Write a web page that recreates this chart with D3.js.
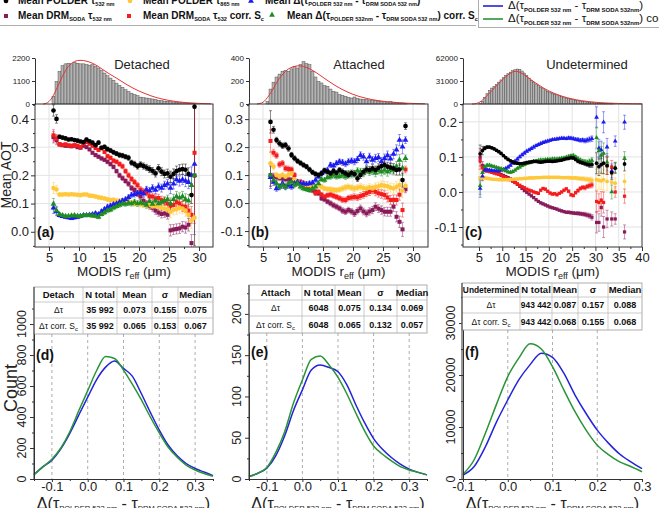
<!DOCTYPE html>
<html><head><meta charset="utf-8">
<script src="https://cdn.jsdelivr.net/npm/d3@7"></script>
<style>body{margin:0;background:#fff}svg{display:block}</style>
</head><body><script>
// ---------------- DATA ----------------
const rEffA = [5.75,6.25,6.75,7.25,7.75,8.25,8.75,9.25,9.75,10.25,10.75,11.25,11.75,12.25,12.75,13.25,13.75,14.25,14.75,15.25,15.75,16.25,16.75,17.25,17.75,18.25,18.75,19.25,19.75,20.25,20.75,21.25,21.75,22.25,22.75,23.25,23.75,24.25,24.75,25.25,25.75,26.25,26.75,27.25,27.75,28.25,28.75,29.25];
const polder532A = [0.430,0.400,0.337,0.334,0.331,0.327,0.328,0.325,0.323,0.320,0.318,0.327,0.321,0.316,0.307,0.316,0.298,0.301,0.293,0.288,0.282,0.277,0.272,0.270,0.266,0.262,0.245,0.240,0.232,0.238,0.233,0.228,0.222,0.216,0.207,0.225,0.213,0.205,0.207,0.195,0.205,0.215,0.220,0.222,0.220,0.205,0.130,0.443];
const polder865A = [0.155,0.150,0.132,0.132,0.133,0.132,0.133,0.132,0.131,0.130,0.132,0.132,0.128,0.127,0.125,0.122,0.120,0.118,0.115,0.112,0.113,0.110,0.110,0.108,0.107,0.105,0.103,0.100,0.100,0.098,0.097,0.093,0.095,0.090,0.092,0.088,0.085,0.082,0.080,0.070,0.078,0.080,0.085,0.082,0.075,0.060,0.040,0.050];
const deltaA = [0.085,0.072,0.058,0.055,0.052,0.050,0.048,0.050,0.052,0.055,0.058,0.058,0.060,0.062,0.065,0.062,0.072,0.080,0.088,0.092,0.097,0.100,0.105,0.110,0.115,0.122,0.130,0.133,0.137,0.140,0.135,0.150,0.145,0.155,0.148,0.160,0.155,0.165,0.170,0.155,0.170,0.185,0.180,0.185,0.180,0.175,0.200,0.240];
const drmA = [0.335,0.325,0.310,0.307,0.305,0.305,0.303,0.305,0.300,0.298,0.305,0.300,0.292,0.280,0.272,0.266,0.260,0.255,0.248,0.240,0.230,0.215,0.200,0.190,0.180,0.170,0.155,0.148,0.135,0.125,0.110,0.100,0.092,0.085,0.075,0.068,0.063,0.065,0.060,0.005,0.008,0.010,0.012,0.018,0.015,0.025,-0.040,0.200];
const drmCorrA = [0.342,0.330,0.310,0.308,0.310,0.306,0.305,0.307,0.305,0.300,0.312,0.318,0.312,0.305,0.297,0.290,0.296,0.283,0.268,0.262,0.252,0.248,0.240,0.232,0.215,0.200,0.187,0.176,0.165,0.150,0.143,0.138,0.125,0.125,0.118,0.120,0.112,0.108,0.100,0.092,0.095,0.105,0.100,0.090,0.088,0.075,0.060,0.280];
const deltaCorrA = [0.098,0.075,0.062,0.058,0.055,0.055,0.057,0.058,0.056,0.055,0.058,0.058,0.058,0.057,0.056,0.052,0.062,0.068,0.075,0.078,0.085,0.090,0.095,0.100,0.098,0.102,0.100,0.105,0.100,0.103,0.100,0.095,0.108,0.098,0.110,0.100,0.105,0.110,0.115,0.100,0.115,0.125,0.120,0.125,0.115,0.110,0.165,0.200];
const errA = [0.020,0.015,0.006,0.005,0.005,0.005,0.005,0.005,0.005,0.005,0.005,0.005,0.005,0.005,0.006,0.006,0.006,0.006,0.007,0.007,0.007,0.007,0.008,0.008,0.008,0.009,0.009,0.010,0.010,0.010,0.011,0.011,0.012,0.012,0.013,0.013,0.014,0.014,0.015,0.020,0.018,0.018,0.018,0.018,0.020,0.022,0.030,0.250];

const rEffB = [6.25,6.75,7.25,7.75,8.25,8.75,9.25,9.75,10.25,10.75,11.25,11.75,12.25,12.75,13.25,13.75,14.25,14.75,15.25,15.75,16.25,16.75,17.25,17.75,18.25,18.75,19.25,19.75,20.25,20.75,21.25,21.75,22.25,22.75,23.25,23.75,24.25,24.75,25.25,25.75,26.25,26.75,27.25,27.75,28.25,28.75];
const polder532B = [0.290,0.262,0.225,0.213,0.205,0.207,0.195,0.172,0.160,0.150,0.143,0.136,0.130,0.120,0.110,0.104,0.100,0.106,0.117,0.112,0.106,0.114,0.108,0.118,0.112,0.106,0.100,0.108,0.104,0.088,0.100,0.112,0.120,0.118,0.124,0.118,0.126,0.132,0.136,0.130,0.127,0.124,0.118,0.120,0.082,0.275];
const polder865B = [0.142,0.130,0.100,0.094,0.100,0.094,0.100,0.106,0.085,0.076,0.070,0.070,0.064,0.064,0.058,0.060,0.062,0.058,0.052,0.050,0.049,0.047,0.046,0.048,0.052,0.056,0.058,0.055,0.052,0.055,0.058,0.054,0.052,0.056,0.052,0.058,0.060,0.064,0.062,0.060,0.055,0.052,0.058,0.064,0.045,0.062];
const deltaB = [0.092,0.075,0.052,0.058,0.070,0.058,0.064,0.058,0.070,0.076,0.070,0.070,0.068,0.070,0.072,0.082,0.094,0.106,0.112,0.118,0.136,0.133,0.142,0.148,0.145,0.140,0.148,0.151,0.148,0.156,0.171,0.165,0.148,0.165,0.154,0.160,0.163,0.148,0.160,0.170,0.158,0.175,0.190,0.225,0.201,0.225];
const drmB = [0.100,0.095,0.092,0.090,0.088,0.085,0.085,0.082,0.078,0.072,0.070,0.065,0.058,0.050,0.045,0.040,0.035,0.017,0.013,0.005,-0.001,-0.008,-0.013,-0.019,-0.027,-0.031,-0.025,-0.030,-0.037,-0.028,-0.019,-0.030,-0.037,-0.030,-0.025,-0.013,-0.020,-0.025,-0.031,-0.031,-0.031,-0.013,-0.049,-0.067,-0.094,0.049];
const drmCorrB = [0.222,0.180,0.170,0.138,0.142,0.124,0.122,0.120,0.100,0.075,0.076,0.070,0.060,0.062,0.050,0.035,0.040,0.030,0.023,0.028,0.030,0.026,0.022,0.017,0.012,0.011,0.018,0.020,0.022,0.020,0.025,0.029,0.035,0.040,0.046,0.040,0.035,0.032,0.029,0.020,0.011,0.012,0.011,0.030,-0.025,0.120];
const deltaCorrB = [0.100,0.082,0.070,0.058,0.064,0.058,0.070,0.076,0.064,0.070,0.058,0.052,0.049,0.046,0.052,0.058,0.070,0.085,0.082,0.092,0.094,0.100,0.094,0.096,0.100,0.094,0.106,0.100,0.106,0.115,0.112,0.106,0.120,0.112,0.115,0.108,0.118,0.112,0.118,0.112,0.120,0.118,0.130,0.154,0.125,0.160];
const errB = [0.040,0.012,0.010,0.010,0.010,0.010,0.010,0.009,0.009,0.008,0.008,0.008,0.008,0.008,0.008,0.008,0.008,0.008,0.008,0.008,0.009,0.009,0.009,0.009,0.010,0.010,0.010,0.010,0.011,0.011,0.012,0.012,0.012,0.013,0.013,0.014,0.014,0.015,0.015,0.016,0.016,0.017,0.018,0.020,0.025,0.012];

const rEffC = [5.25,5.75,6.25,6.75,7.25,7.75,8.25,8.75,9.25,9.75,10.25,10.75,11.25,11.75,12.25,12.75,13.25,13.75,14.25,14.75,15.25,15.75,16.25,16.75,17.25,17.75,18.25,18.75,19.25,19.75,20.25,20.75,21.25,21.75,22.25,22.75,23.25,23.75,24.25,24.75,25.25,25.75,26.25,26.75,27.25,27.75,28.25,28.75,29.25,30.25,30.75,31.25,31.75,32.5,33.5,34.25,36.25];
const polder532C = [0.109,0.118,0.125,0.128,0.128,0.126,0.123,0.119,0.115,0.110,0.104,0.098,0.093,0.089,0.086,0.083,0.082,0.081,0.081,0.082,0.084,0.085,0.086,0.087,0.087,0.086,0.085,0.086,0.087,0.088,0.088,0.087,0.088,0.089,0.090,0.091,0.093,0.095,0.096,0.098,0.097,0.093,0.088,0.085,0.083,0.081,0.079,0.077,0.078,0.082,0.072,0.078,0.082,0.075,0.055,0.068,0.080];
const polder865C = [0.040,0.042,0.040,0.039,0.038,0.037,0.036,0.036,0.035,0.035,0.035,0.035,0.035,0.036,0.036,0.037,0.037,0.038,0.038,0.039,0.039,0.040,0.040,0.040,0.041,0.041,0.041,0.042,0.042,0.042,0.042,0.042,0.042,0.042,0.042,0.041,0.041,0.041,0.041,0.040,0.040,0.040,0.039,0.038,0.038,0.037,0.036,0.035,0.034,0.035,0.033,0.032,0.035,0.030,0.028,0.025,0.030];
const deltaC = [0.010,0.045,0.062,0.063,0.062,0.061,0.060,0.060,0.060,0.062,0.064,0.067,0.071,0.076,0.082,0.088,0.094,0.100,0.106,0.111,0.116,0.120,0.124,0.128,0.132,0.135,0.138,0.141,0.143,0.145,0.147,0.149,0.150,0.151,0.152,0.153,0.153,0.152,0.154,0.153,0.152,0.150,0.149,0.147,0.148,0.146,0.148,0.150,0.152,0.213,0.125,0.120,0.199,0.128,0.060,0.145,0.199];
const drmC = [0.099,0.075,0.064,0.061,0.060,0.058,0.057,0.055,0.053,0.050,0.047,0.044,0.041,0.037,0.032,0.027,0.022,0.016,0.010,0.004,-0.001,-0.006,-0.011,-0.016,-0.022,-0.027,-0.031,-0.034,-0.037,-0.040,-0.043,-0.045,-0.047,-0.049,-0.052,-0.054,-0.056,-0.058,-0.058,-0.059,-0.060,-0.061,-0.061,-0.062,-0.063,-0.064,-0.066,-0.068,-0.072,-0.087,-0.087,-0.044,-0.100,-0.077,-0.077,-0.077,-0.114];
const drmCorrC = [0.090,0.070,0.062,0.060,0.058,0.056,0.054,0.052,0.050,0.047,0.044,0.041,0.038,0.035,0.031,0.027,0.023,0.019,0.015,0.012,0.008,0.005,0.003,0.000,-0.002,-0.004,0.005,0.010,0.008,0.002,-0.003,-0.006,-0.005,-0.008,-0.004,0.000,0.005,0.009,0.002,-0.008,-0.010,-0.002,0.004,0.010,0.013,0.012,0.016,0.018,0.020,-0.027,-0.030,-0.024,-0.030,0.075,0.070,0.000,-0.012];
const deltaCorrC = [0.018,0.055,0.072,0.076,0.076,0.074,0.072,0.070,0.068,0.066,0.063,0.060,0.057,0.056,0.058,0.062,0.067,0.071,0.075,0.078,0.081,0.083,0.085,0.087,0.088,0.090,0.091,0.091,0.092,0.093,0.093,0.094,0.094,0.094,0.095,0.096,0.097,0.099,0.101,0.103,0.104,0.100,0.095,0.091,0.088,0.086,0.085,0.087,0.090,0.155,0.118,0.105,0.110,0.085,0.000,0.070,0.095];
const errC = [0.025,0.012,0.005,0.004,0.003,0.003,0.003,0.003,0.003,0.003,0.003,0.003,0.003,0.003,0.003,0.003,0.003,0.003,0.003,0.003,0.003,0.003,0.003,0.003,0.003,0.003,0.003,0.003,0.003,0.003,0.003,0.003,0.003,0.003,0.003,0.003,0.003,0.003,0.004,0.004,0.004,0.004,0.005,0.005,0.005,0.006,0.006,0.007,0.008,0.030,0.025,0.025,0.030,0.025,0.020,0.015,0.020];

// histograms of r_eff (bin start, bin width, counts) and fitted curves
const histStartA = 5.5, histWidthA = 0.5;
const histCountsA = [370,1080,1560,1830,1920,1950,1920,1990,1950,1920,1920,1880,1860,1880,1800,1720,1600,1480,1350,1240,1130,1000,890,800,680,600,520,445,400,330,300,285,260,240,220,175,160,140,130,110,100,80,70,60,55,45,40,30];
const fitRA = [4,4.5,5,5.5,6,6.5,7,7.5,8,8.5,9,9.5,10,10.5,11,12,13,14,15,16,17,18,19,20,21,22,23,24,25,26,27,28,29,30,31,32];
const fitA = [0,30,120,300,560,870,1180,1470,1710,1880,1990,2060,2085,2085,2065,1980,1830,1640,1450,1280,1100,920,760,620,500,390,300,230,170,125,90,65,45,30,18,10];
const histStartB = 5.5, histWidthB = 0.5;
const histCountsB = [23,130,190,235,260,285,293,285,305,328,313,342,368,351,342,284,235,197,183,160,154,130,110,104,81,75,67,58,52,61,49,43,40,38,35,29,32,26,23,20,17,20,15,12,9,9,6];
const fitRB = [4,4.5,5,5.5,6,6.5,7,7.5,8,8.5,9,9.5,10,10.5,11,11.5,12,13,14,15,16,17,18,19,20,21,22,23,24,25,26,27,28,29,30,31,32];
const fitB = [0,5,15,40,75,115,160,205,240,270,295,312,323,330,332,330,322,300,268,232,196,162,132,106,84,66,52,40,31,24,18,14,10,7,5,3,2];
const histStartC = 5.0, histWidthC = 0.5;
const histCountsC = [500,3600,9000,14000,18500,21500,24000,26500,29500,32500,35500,38500,41000,43000,44800,46200,47100,46700,44500,41800,38500,35000,32000,29500,27000,25000,22800,21000,19000,17200,15800,14500,13300,12200,11000,10000,9000,8100,7300,6500,5800,5100,4500,4000,3500,3100,2700,2300,2000,1700,1400,1150,950,800,650,550,450,350];
const fitRC = [3.5,4,4.5,5,5.5,6,7,8,9,10,11,12,12.5,13,13.5,14,15,16,17,18,19,20,21,22,23,24,25,26,27,28,29,30,31,32,33,34,35,36,37,38,39,40];
const fitC = [0,200,800,2000,4000,6800,13000,19500,26000,32500,38000,42500,43800,44000,43500,42000,38000,33500,29000,25000,21000,17700,14800,12300,10200,8400,6900,5600,4600,3700,3000,2400,1900,1500,1200,950,750,580,450,350,270,200];

// distributions of the difference (bottom row)
const dTauD = [-0.15,-0.125,-0.1,-0.075,-0.05,-0.025,0,0.025,0.05,0.075,0.1,0.125,0.15,0.175,0.2,0.225,0.25,0.275,0.3,0.325,0.35];
const countBlueD = [28,80,122,195,295,412,528,642,722,762,714,662,550,430,316,218,150,100,68,45,22];
const countGreenD = [28,78,127,200,305,440,570,700,790,778,703,610,510,400,297,205,140,90,58,35,18];
const dTauE = [-0.15,-0.125,-0.1,-0.075,-0.05,-0.025,0,0.025,0.05,0.075,0.1,0.125,0.15,0.175,0.2,0.225,0.25,0.275,0.3,0.325,0.35];
const countBlueE = [3,7,13,28,52,83,108,132,138,135,130,114,90,68,49,36,26,18,12,8,5];
const countGreenE = [3,7,14,32,57,92,120,145,149,138,123,103,80,58,40,30,22,15,11,8,5];
const dTauF = [-0.1,-0.075,-0.05,-0.025,0,0.025,0.05,0.075,0.1,0.125,0.15,0.175,0.2,0.225,0.25,0.275,0.3];
const countBlueF = [770,2400,6200,11000,15200,19100,22000,24200,23400,20400,16200,12600,9400,6900,4800,3300,2000];
const countGreenF = [900,3700,8800,14400,19700,23300,26000,25000,21600,17200,13000,9400,6500,4700,3300,2400,1400];

// statistics tables
const tableHeadD = ["Detach","N total","Mean","σ","Median"];
const tableHeadE = ["Attach","N total","Mean","σ","Median"];
const tableHeadF = ["Undetermined","N total","Mean","σ","Median"];
const nTotalD = ["35 992","35 992"], meanD = ["0.073","0.065"], sigmaD = ["0.155","0.153"], medianD = ["0.075","0.067"];
const nTotalE = ["6048","6048"], meanE = ["0.075","0.065"], sigmaE = ["0.134","0.132"], medianE = ["0.069","0.057"];
const nTotalF = ["943 442","943 442"], meanF = ["0.087","0.068"], sigmaF = ["0.157","0.155"], medianF = ["0.088","0.068"];

// ---------------- DRAWING ----------------
const FONT = '"Liberation Sans", Arial, Helvetica, sans-serif';
const svg = d3.select("body").append("svg").attr("width",659).attr("height",508).attr("font-family",FONT);

const STY = {
  p532:{color:"#000000",shape:d3.symbolCircle,size:17},
  p865:{color:"#ffc83a",shape:d3.symbolCircle,size:17},
  delta:{color:"#1c1cf0",shape:d3.symbolTriangle,size:15},
  drm:{color:"#8a1b5a",shape:d3.symbolSquare,size:16},
  drmc:{color:"#f51c1c",shape:d3.symbolSquare,size:16},
  deltac:{color:"#1e8c22",shape:d3.symbolTriangle,size:15}
};
const markOrder = ["drm","drmc","p865","delta","deltac","p532"];
const errOrder = ["p865","delta","deltac","drm","p532","drmc"];

function rich(g, x, y, parts, o) {
  const t = g.append("text").attr("x",x).attr("y",y).attr("font-size",o.size)
    .attr("font-weight",o.weight||"normal").attr("text-anchor",o.anchor||"start").attr("fill",o.fill||"#000");
  if (o.rotate) t.attr("transform",`rotate(${o.rotate},${x},${y})`);
  let sub = false;
  parts.forEach(p => {
    if (typeof p === "string") {
      const ts = t.append("tspan").text(p);
      if (sub) { ts.attr("dy", -o.subDy); sub = false; }
    } else {
      const ts = t.append("tspan").text(p.s).attr("font-size", o.subSize);
      if (o.subWeight) ts.attr("font-weight", o.subWeight);
      if (!sub) { ts.attr("dy", o.subDy); sub = true; }
    }
  });
  return t;
}

function styleAxis(sel, fs, keepDomain) {
  sel.attr("font-family",FONT).attr("font-size",fs);
  if (!keepDomain) sel.select(".domain").remove(); else sel.select(".domain").attr("stroke","#333");
  sel.selectAll(".tick line").attr("stroke","#333");
  sel.selectAll("text").attr("fill","#222");
}

function mainPanel(L, D) {
  const x = d3.scaleLinear().domain(L.xd).range([L.x0, L.x1]);
  const y = d3.scaleLinear().domain(L.yd).range([L.y1, L.y0]);
  const g = svg.append("g");
  svg.append("clipPath").attr("id","clip"+L.id).append("rect")
    .attr("x",L.x0).attr("y",L.y0).attr("width",L.x1-L.x0).attr("height",L.y1-L.y0);
  g.append("g").selectAll("line").data(L.xt.filter(v => x(v) > L.x0+1 && x(v) < L.x1-1)).join("line")
    .attr("x1",d=>x(d)).attr("x2",d=>x(d)).attr("y1",L.y0).attr("y2",L.y1).attr("stroke","#e3e3e3");
  g.append("g").selectAll("line").data(L.yt).join("line")
    .attr("x1",L.x0).attr("x2",L.x1).attr("y1",d=>y(d)).attr("y2",d=>y(d)).attr("stroke","#e3e3e3");
  const hy = d3.scaleLinear().domain(L.hd).range([L.y0, L.hTop]);
  const H = D.hist;
  g.append("g").selectAll("rect").data(H.counts).join("rect")
    .attr("x",(d,i)=>x(H.start+i*H.width))
    .attr("width",(d,i)=>x(H.start+(i+1)*H.width)-x(H.start+i*H.width))
    .attr("y",d=>hy(d)).attr("height",d=>L.y0-hy(d))
    .attr("fill","#b3b3b3").attr("stroke","#3a3a3a").attr("stroke-width",0.4);
  g.append("path").datum(D.fitR.map((r,i)=>[r,D.fit[i]]))
    .attr("d",d3.line().x(d=>x(d[0])).y(d=>hy(d[1])).curve(d3.curveMonotoneX))
    .attr("fill","none").attr("stroke","#e8352f").attr("stroke-width",1);
  const ha = g.append("g").attr("transform",`translate(${L.x0},0)`)
    .call(d3.axisLeft(hy).tickValues(L.ht).tickSize(3).tickSizeOuter(0).tickPadding(2).tickFormat(d3.format("d")));
  styleAxis(ha, 8, true);
  g.append("rect").attr("x",L.x0).attr("y",L.y0).attr("width",L.x1-L.x0).attr("height",L.y1-L.y0)
    .attr("fill","none").attr("stroke","#333").attr("stroke-width",1);
  const dg = g.append("g").attr("clip-path",`url(#clip${L.id})`);
  errOrder.forEach(k => {
    const vals = D.s[k];
    dg.append("g").selectAll("path").data(vals.map((v,i)=>({x:D.x[i],v:v,e:D.err[i]}))).join("path")
      .attr("d",d=>{const xx=x(d.x),a=y(d.v-d.e),b=y(d.v+d.e);return `M${xx},${a}V${b}M${xx-1.5},${a}h3M${xx-1.5},${b}h3`;})
      .attr("stroke",STY[k].color).attr("stroke-width",0.6).attr("opacity",0.75).attr("fill","none");
  });
  markOrder.forEach(k => {
    const vals = D.s[k];
    dg.append("g").selectAll("path").data(vals.map((v,i)=>({x:D.x[i],v:v}))).join("path")
      .attr("transform",d=>`translate(${x(d.x)},${y(d.v)})`)
      .attr("d",d3.symbol().type(STY[k].shape).size(STY[k].size*L.ms))
      .attr("fill",STY[k].color);
  });
  const xa = g.append("g").attr("transform",`translate(0,${L.y1})`)
    .call(d3.axisBottom(x).tickValues(L.xt).tickSize(4).tickSizeOuter(0).tickPadding(2).tickFormat(d3.format("d")));
  styleAxis(xa, 13);
  const xm = g.append("g").attr("transform",`translate(0,${L.y1})`)
    .call(d3.axisBottom(x).tickValues(L.xm).tickSize(2).tickSizeOuter(0).tickFormat(""));
  styleAxis(xm, 13);
  const ya = g.append("g").attr("transform",`translate(${L.x0},0)`)
    .call(d3.axisLeft(y).tickValues(L.yt).tickSize(4).tickSizeOuter(0).tickPadding(2).tickFormat(d=>d.toFixed(1)));
  styleAxis(ya, 13);
  const ym = g.append("g").attr("transform",`translate(${L.x0},0)`)
    .call(d3.axisLeft(y).tickValues(L.ym).tickSize(2).tickSizeOuter(0).tickFormat(""));
  styleAxis(ym, 13);
  g.append("text").attr("x",L.titleX).attr("y",69).attr("text-anchor","middle").attr("font-size",13).attr("fill","#222").text(L.title);
  g.append("text").attr("x",L.x0+2).attr("y",237).attr("font-size",14).attr("font-weight","bold").attr("fill","#111").text(L.letter);
  rich(g,(L.x0+L.x1)/2,276,["MODIS r",{s:"eff"}," (μm)"],{size:13.5,subSize:9,subDy:3,anchor:"middle",fill:"#222"});
}

function kdePanel(L, D) {
  const x = d3.scaleLinear().domain(L.xd).range([L.x0, L.x1]);
  const y = d3.scaleLinear().domain([0, L.ymax]).range([L.yb, L.yt]);
  const g = svg.append("g");
  const tb = L.rows[L.rows.length-1];
  g.append("g").selectAll("line").data(L.xt.filter(v=>x(v)>L.x0+1&&x(v)<L.x1-1)).join("line")
    .attr("x1",d=>x(d)).attr("x2",d=>x(d)).attr("y1",tb).attr("y2",L.yb)
    .attr("stroke","#8a8a8a").attr("stroke-width",0.7).attr("stroke-dasharray","3,3");
  const line = d3.line().x(d=>x(d[0])).y(d=>y(d[1])).curve(d3.curveMonotoneX);
  g.append("path").datum(D.x.map((v,i)=>[v,D.blue[i]])).attr("d",line).attr("fill","none").attr("stroke","#2323d8").attr("stroke-width",1.5);
  g.append("path").datum(D.x.map((v,i)=>[v,D.green[i]])).attr("d",line).attr("fill","none").attr("stroke","#2a9436").attr("stroke-width",1.5);
  const xa = g.append("g").attr("transform",`translate(0,${L.yb})`)
    .call(d3.axisBottom(x).tickValues(L.xt).tickSize(3).tickSizeOuter(0).tickPadding(0).tickFormat(d=>d.toFixed(1)));
  styleAxis(xa, 13, true);
  const xm = g.append("g").attr("transform",`translate(0,${L.yb})`)
    .call(d3.axisBottom(x).tickValues(L.xm).tickSize(2).tickSizeOuter(0).tickFormat(""));
  styleAxis(xm, 13);
  const ya = g.append("g").attr("transform",`translate(${L.x0},0)`)
    .call(d3.axisLeft(y).tickValues(L.yt2).tickSize(4).tickSizeOuter(0).tickFormat(""));
  styleAxis(ya, 12, true);
  const ym = g.append("g").attr("transform",`translate(${L.x0},0)`)
    .call(d3.axisLeft(y).tickValues(L.ym).tickSize(2).tickSizeOuter(0).tickFormat(""));
  styleAxis(ym, 12);
  L.yt2.forEach(v => {
    const yy = y(v), xx = L.x0 - 8;
    g.append("text").attr("x",xx).attr("y",yy).attr("transform",`rotate(-90,${xx},${yy})`)
      .attr("text-anchor","middle").attr("font-size",12.5).attr("fill","#222").text(v);
  });
  const T = D.table, C = L.cols, R = L.rows;
  const tg = g.append("g");
  tg.append("rect").attr("x",C[0]).attr("y",R[0]).attr("width",C[C.length-1]-C[0]).attr("height",R[R.length-1]-R[0])
    .attr("fill","#fff").attr("stroke","#9a9a9a").attr("stroke-width",0.8);
  C.slice(1,-1).forEach(c => tg.append("line").attr("x1",c).attr("x2",c).attr("y1",R[0]).attr("y2",R[R.length-1]).attr("stroke","#b5b5b5").attr("stroke-width",0.7));
  R.slice(1,-1).forEach(r => tg.append("line").attr("x1",C[0]).attr("x2",C[C.length-1]).attr("y1",r).attr("y2",r).attr("stroke","#b5b5b5").attr("stroke-width",0.7));
  tg.append("line").attr("x1",C[0]).attr("x2",C[0]).attr("y1",R[0]).attr("y2",L.yb).attr("stroke","#333");
  T.forEach((row,ri) => {
    row.forEach((cell,ci) => {
      const cx = (C[ci]+C[ci+1])/2, cy = (R[ri]+R[ri+1])/2 + 3.2;
      const parts = Array.isArray(cell) ? cell : [cell];
      const isDelta = ci===0 && ri>0;
      const longHead = ri===0 && typeof cell === "string" && cell.length > 8;
      const fs = isDelta ? 8.5 : (ri===0 ? (longHead ? 8.4 : 9.5) : (String(cell).length > 6 ? 8.4 : 9));
      rich(tg, cx, cy, parts, {size: fs, weight: isDelta?"normal":"bold", subSize:6, subDy:2, anchor:"middle", fill:"#111"});
    });
  });
  g.append("text").attr("x",L.x0+2).attr("y",L.letterY).attr("font-size",14).attr("font-weight","bold").attr("fill","#111").text(L.letter);
  rich(g,(L.x0+L.x1)/2,509,["Δ(τ",{s:"POLDER 532 nm"}," - τ",{s:"DRM SODA 532 nm"},")"],{size:16,subSize:7.5,subDy:2,anchor:"middle",fill:"#222"});
}

// ---- main panels ----
mainPanel({id:"a",x0:35,x1:213,y0:104,y1:247,xd:[2.667,32.33],yd:[-0.054,0.453],
  xt:[5,10,15,20,25,30],xm:[7.5,12.5,17.5,22.5,27.5],yt:[0,0.1,0.2,0.3,0.4],ym:[-0.05,0.05,0.15,0.25,0.35,0.45],
  hd:[0,2200],hTop:58,ht:[0,1100,2200],title:"Detached",titleX:142,letter:"(a)",ms:1},
  {x:rEffA,err:errA,s:{p532:polder532A,p865:polder865A,delta:deltaA,drm:drmA,drmc:drmCorrA,deltac:deltaCorrA},
   hist:{start:histStartA,width:histWidthA,counts:histCountsA},fitR:fitRA,fit:fitA});
mainPanel({id:"b",x0:249,x1:428,y0:104,y1:247,xd:[2.667,32.5],yd:[-0.157,0.354],
  xt:[5,10,15,20,25,30],xm:[7.5,12.5,17.5,22.5,27.5],yt:[-0.1,0,0.1,0.2,0.3],ym:[-0.15,-0.05,0.05,0.15,0.25,0.35],
  hd:[0,400],hTop:58,ht:[0,200,400],title:"Attached",titleX:359,letter:"(b)",ms:1},
  {x:rEffB,err:errB,s:{p532:polder532B,p865:polder865B,delta:deltaB,drm:drmB,drmc:drmCorrB,deltac:deltaCorrB},
   hist:{start:histStartB,width:histWidthB,counts:histCountsB},fitR:fitRB,fit:fitB});
mainPanel({id:"c",x0:463,x1:642,y0:104,y1:247,xd:[1.57,40],yd:[-0.157,0.251],
  xt:[5,10,15,20,25,30,35,40],xm:[7.5,12.5,17.5,22.5,27.5,32.5,37.5],yt:[-0.1,0,0.1,0.2],ym:[-0.15,-0.05,0.05,0.15,0.25],
  hd:[0,62000],hTop:58,ht:[0,31000,62000],title:"Undetermined",titleX:587,letter:"(c)",ms:0.65},
  {x:rEffC,err:errC,s:{p532:polder532C,p865:polder865C,delta:deltaC,drm:drmC,drmc:drmCorrC,deltac:deltaCorrC},
   hist:{start:histStartC,width:histWidthC,counts:histCountsC},fitR:fitRC,fit:fitC});

// ---- bottom panels ----
function tableRows(head, n, mean, sd, med) {
  return [head,
    ["Δτ", n[0], mean[0], sd[0], med[0]],
    [["Δτ corr. S",{s:"c"}], n[1], mean[1], sd[1], med[1]]];
}
kdePanel({x0:34,x1:213,yb:479,yt:287,xd:[-0.15,0.35],ymax:1239,xt:[-0.1,0,0.1,0.2,0.3],xm:[-0.15,-0.05,0.05,0.15,0.25,0.35],
  yt2:[0,200,400,600,800,1000],ym:[100,300,500,700,900,1100],cols:[34,83,117,152,178,213],rows:[287,302,318,334],letter:"(d)",letterY:360},
  {x:dTauD,blue:countBlueD,green:countGreenD,table:tableRows(tableHeadD,nTotalD,meanD,sigmaD,medianD)});
kdePanel({x0:249,x1:427,yb:479,yt:285,xd:[-0.15,0.35],ymax:235,xt:[-0.1,0,0.1,0.2,0.3],xm:[-0.15,-0.05,0.05,0.15,0.25,0.35],
  yt2:[0,50,100,150,200],ym:[25,75,125,175,225],cols:[249,302,335,364,397,427],rows:[285,300,316,333],letter:"(e)",letterY:357},
  {x:dTauE,blue:countBlueE,green:countGreenE,table:tableRows(tableHeadE,nTotalE,meanE,sigmaE,medianE)});
kdePanel({x0:463,x1:642,yb:479,yt:283,xd:[-0.1,0.3],ymax:37700,xt:[-0.1,0,0.1,0.2,0.3],xm:[-0.05,0.05,0.15,0.25],
  yt2:[0,10000,20000,30000],ym:[5000,15000,25000,35000],cols:[462,520,552,578,608,642],rows:[283,297,313,330],letter:"(f)",letterY:357},
  {x:dTauF,blue:countBlueF,green:countGreenF,table:tableRows(tableHeadF,nTotalF,meanF,sigmaF,medianF)});

// axis titles
svg.append("text").attr("x",11).attr("y",175).attr("transform","rotate(-90,11,175)").attr("text-anchor","middle")
  .attr("font-size",14).attr("fill","#222").text("Mean AOT");
svg.append("text").attr("x",17).attr("y",388).attr("transform","rotate(-90,17,388)").attr("text-anchor","middle")
  .attr("font-size",18).attr("fill","#222").text("Count");

// ---- legends ----
const lg = svg.append("g");
lg.append("line").attr("x1",0).attr("x2",476).attr("y1",25.5).attr("y2",25.5).attr("stroke","#9a9a9a").attr("stroke-width",0.8);
const legItems = [
  {k:"p532",mx:6,my:1,tx:18,ty:4,parts:["Mean POLDER τ",{s:"532 nm"}]},
  {k:"p865",mx:130,my:1,tx:143,ty:4,parts:["Mean POLDER τ",{s:"865 nm"}]},
  {k:"delta",mx:251,my:1,tx:265,ty:4,parts:["Mean Δ(τ",{s:"POLDER 532 nm"}," - τ",{s:"DRM SODA 532 nm"},")"]},
  {k:"drm",mx:6,my:16,tx:18,ty:19,parts:["Mean DRM",{s:"SODA"}," τ",{s:"532 nm"}]},
  {k:"drmc",mx:129,my:16,tx:143,ty:19,parts:["Mean DRM",{s:"SODA"}," τ",{s:"532"}," corr. S",{s:"c"}]},
  {k:"deltac",mx:272,my:15,tx:287,ty:19,parts:["Mean Δ(τ",{s:"POLDER 532nm"}," - τ",{s:"DRM SODA 532 nm"},") corr. S",{s:"c"}]}
];
legItems.forEach(it => {
  lg.append("path").attr("transform",`translate(${it.mx},${it.my})`)
    .attr("d",d3.symbol().type(STY[it.k].shape).size(STY[it.k].size)).attr("fill",STY[it.k].color);
  rich(lg,it.tx,it.ty,it.parts,{size:10,weight:"bold",subSize:5.6,subDy:2,fill:"#111"});
});
lg.append("rect").attr("x",478.5).attr("y",-3).attr("width",200).attr("height",30.5).attr("fill","none").attr("stroke","#9a9a9a").attr("stroke-width",0.8);
lg.append("line").attr("x1",483).attr("x2",503).attr("y1",6).attr("y2",6).attr("stroke","#2323d8").attr("stroke-width",1.6);
lg.append("line").attr("x1",483).attr("x2",503).attr("y1",19).attr("y2",19).attr("stroke","#2a9436").attr("stroke-width",1.6);
rich(lg,508,9,["Δ(τ",{s:"POLDER 532 nm"}," - τ",{s:"DRM SODA 532nm"},")"],{size:11.5,subSize:6,subWeight:"bold",subDy:3,fill:"#111"});
rich(lg,508,22,["Δ(τ",{s:"POLDER 532 nm"}," - τ",{s:"DRM SODA 532nm"},") corr. S",{s:"c"}],{size:11.5,subSize:6,subWeight:"bold",subDy:3,fill:"#111"});
</script></body></html>
